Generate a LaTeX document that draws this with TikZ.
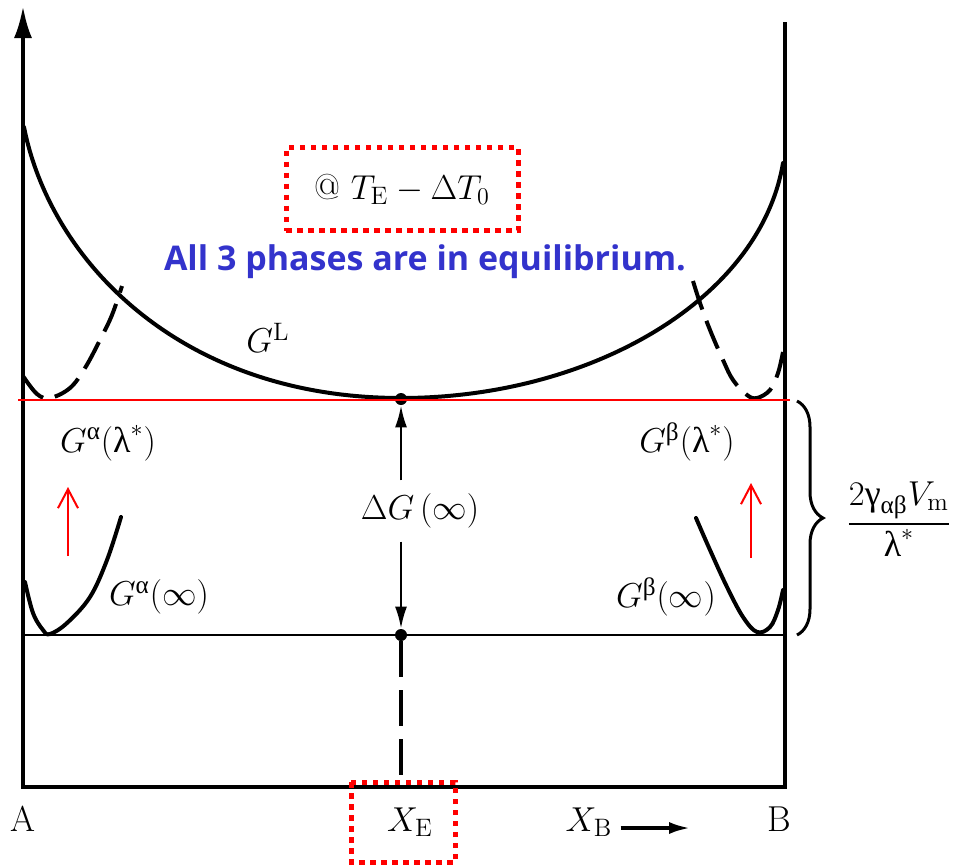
\documentclass[tikz,border=0pt]{standalone}
\usepackage{amsmath}
\usepackage{fontspec}
\newfontfamily\blufont{Open Sans}
\newfontfamily\grk{Liberation Serif}
\usetikzlibrary{positioning, arrows.meta, decorations.pathreplacing}
\definecolor{eqblue}{RGB}{51,51,204}
\newcommand{\upal}{\text{\grk α}}
\newcommand{\upbe}{\text{\grk β}}
\newcommand{\upga}{\text{\grk γ}}
\newcommand{\upla}{\text{\grk λ}}

\begin{document}
\begin{tikzpicture}[
    x=0.5pt, y=-0.5pt,
    >={Latex[length=11pt,width=6pt]},
    axis/.style={line width=2pt, line join=miter},
    curve/.style={line width=2pt, line cap=round},
    dashcurve/.style={line width=2pt, dash pattern=on 15pt off 6pt},
    level/.style={line width=1.2pt},
    eqline/.style={red, line width=1pt},
    dot/.style={circle, fill, inner sep=0pt, minimum size=6pt},
    lbl/.style={font=\fontsize{18}{22}\selectfont, inner sep=1pt},
    redbox/.style={draw=red, line width=2.5pt, dash pattern=on 2.75pt off 2.75pt},
    shiftarrow/.style={red, line width=1pt, -{Straight Barb[length=9.5pt,width=10pt]}}
]
  \useasboundingbox (0,0) rectangle (968,864);

  % frame and axes
  \coordinate (gtop) at (23,6);
  \coordinate (A0) at (23,787);
  \coordinate (B0) at (785,787);
  \coordinate (btop) at (785,22);
  \draw[axis, {Latex[length=16pt,width=9pt]}-] (gtop) -- (A0) -- (B0) -- (btop);

  % equilibrium points
  \node[dot] (top) at (401,399) {};
  \node[dot] (bot) at (401,635) {};
  \coordinate (xe) at (401,778);

  % liquid curve
  \draw[curve] (24,127) .. controls (50,260) and (180,398) .. (401,398)
    .. controls (590,398) and (760,300) .. (783,163);

  % alpha and beta, lambda = infinity
  \draw[curve] plot[smooth, tension=0.6] coordinates {(25,582) (33,613) (43,630) (50,634)
    (67,623) (90,597) (107,560) (121,517)};
  \draw[curve] plot[smooth, tension=0.6] coordinates {(696,518) (710,550) (727,587)
    (743,617) (757,632) (770,627) (778,610) (783,590)};

  % alpha and beta, lambda = lambda*
  \draw[dashcurve] plot[smooth, tension=0.6] coordinates {(23,376) (37,394) (50,398)
    (70,388) (85,368) (100,340) (112,315) (122,286)};
  \draw[dashcurve] plot[smooth, tension=0.6] coordinates {(693,281) (700,303) (710,330)
    (723,360) (733,380) (747,395) (757,398) (770,390) (778,373) (783,352)};

  % levels
  \draw[level] (A0 |- bot) -- (B0 |- bot);
  \draw[eqline] (18,400) -- (790,400);

  % Delta G
  \node[lbl, inner ysep=6.5pt] (dG) at (420,511) {$\Delta G\,(\infty)$};
  \draw[level, ->] (top |- dG.north) -- (top);
  \draw[level, ->] (top |- dG.south) -- (bot);
  \draw[line width=2pt, dash pattern=on 18pt off 6.5pt] (bot) -- (xe);

  % labels
  \node[lbl] (GL) at (268,338) {$G^{\mathrm{L}}$};
  \node[lbl] (Gal) at (108,443) {$G^{\upal}(\upla^{*})$};
  \node[lbl] (Gai) at (159,597) {$G^{\upal}(\infty)$};
  \node[lbl] (Gbl) at (687,442) {$G^{\upbe}(\upla^{*})$};
  \node[lbl] (Gbi) at (666,597) {$G^{\upbe}(\infty)$};

  % shift arrows
  \coordinate (la0) at (68,556);
  \coordinate (la1) at (68,487);
  \coordinate (ra0) at (751,558);
  \coordinate (ra1) at (751,483);
  \draw[shiftarrow] (la0) -- (la1);
  \draw[shiftarrow] (ra0) -- (ra1);

  % brace
  \draw[line width=1.5pt, decorate, decoration={brace, amplitude=13pt}] (797,401) -- (797,635);
  \node[lbl] (frac) at (899,519) {$\dfrac{2\upga_{\upal\upbe}V_{\mathrm{m}}}{\upla^{*}}$};

  % temperature
  \node[lbl, redbox, minimum width=116pt, minimum height=41.5pt] (temp) at (402,189)
    {@ $T_{\mathrm{E}}-\Delta T_{0}$};
  \node[font=\blufont\bfseries\fontsize{17}{20}\selectfont, text=eqblue] (eq) at (425,262)
    {All 3 phases are in equilibrium.};

  % composition axis
  \node[lbl] (A) at (23,819) {A};
  \node[lbl] (B) at (779,819) {B};
  \node[lbl] (XE) at (410,822) {$X_{\mathrm{E}}$};
  \draw[redbox] (351,782) rectangle (455,862);
  \node[lbl] (XB) at (589,822) {$X_{\mathrm{B}}$};
  \coordinate (xbend) at (691,828);
  \draw[line width=2pt, -{Latex[length=11pt,width=6pt]}, shorten <=3pt] (XB.east |- xbend) -- (xbend);
\end{tikzpicture}
\end{document}
